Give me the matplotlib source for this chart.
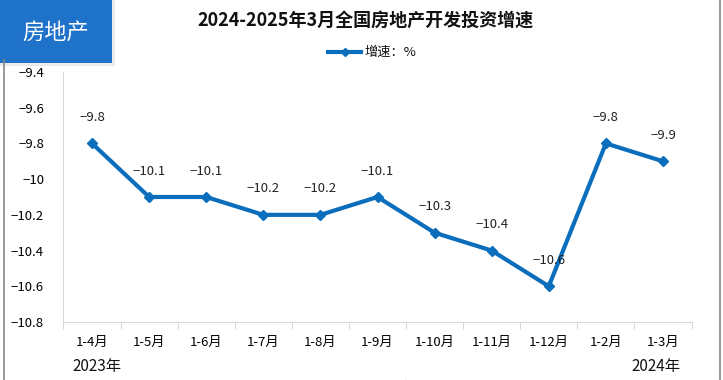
import matplotlib
matplotlib.use("Agg")
import matplotlib.pyplot as plt
from matplotlib.lines import Line2D
from matplotlib.patches import Rectangle

plt.rcParams['font.family'] = ['Noto Sans CJK SC', 'DejaVu Sans']
plt.rcParams['axes.unicode_minus'] = True

categories = ["1-4月", "1-5月", "1-6月", "1-7月", "1-8月", "1-9月", "1-10月", "1-11月", "1-12月", "1-2月", "1-3月"]
growth = [-9.8, -10.1, -10.1, -10.2, -10.2, -10.1, -10.3, -10.4, -10.6, -9.8, -9.9]
yticks = [-10.8, -10.6, -10.4, -10.2, -10, -9.8, -9.6, -9.4]
ytick_labels = ["−10.8", "−10.6", "−10.4", "−10.2", "−10", "−9.8", "−9.6", "−9.4"]

W, H = 723, 380
fig = plt.figure(figsize=(W/100, H/100), dpi=100)
ax = fig.add_axes([63.5/W, 1-322/H, (691.5-63.5)/W, 250/H])

color = "#0a6ebd"
x = list(range(len(categories)))
ax.plot(x, growth, color=color, lw=3, marker="D", ms=5, solid_joinstyle="round")
for xi, v in zip(x, growth):
    ax.annotate(f"{v:g}".replace("-", "−"), (xi, v), xytext=(0, 14), textcoords="offset points",
                ha="center", va="bottom", fontsize=9.5, color="#222222")

ax.set_xlim(-0.5, len(categories)-0.5)
ax.set_ylim(-10.8, -9.4)
ax.set_yticks(yticks)
ax.set_yticklabels(ytick_labels, fontsize=9.5)
ax.set_xticks(x)
ax.set_xticklabels(categories, fontsize=9.5)
ax.set_xticks([i + 0.5 for i in range(-1, len(categories))], minor=True)
ax.tick_params(axis="x", which="major", length=0, pad=10)
ax.tick_params(axis="x", which="minor", length=5, color="#d0d0d0")
ax.tick_params(axis="y", length=0, pad=14)
for s in ["top", "right"]:
    ax.spines[s].set_visible(False)
ax.spines["left"].set_color("#d9d9d9")
ax.spines["bottom"].set_color("#d9d9d9")

# Title
fig.text(365/W, 1-20/H, "2024-2025年3月全国房地产开发投资增速", ha="center", va="center",
         fontsize=13, fontweight="bold", color="#111111")

# Legend
leg_y = 1-52/H
fig.add_artist(Line2D([328/W, 361/W], [leg_y, leg_y], color=color, lw=3))
fig.add_artist(Line2D([344.5/W], [leg_y], color=color, marker="D", ms=4.5, lw=0))
fig.text(364/W, leg_y, "增速：%", ha="left", va="center", fontsize=9.5, color="#111111")

# Year labels
fig.text(97/W, 1-367/H, "2023年", ha="center", va="center", fontsize=11, color="#111111")
fig.text(656/W, 1-367/H, "2024年", ha="center", va="center", fontsize=11, color="#111111")

# Source text cut off at bottom (as in the reference)
fig.text(400/W, 1-388/H, "制图：中房情报网", ha="left", va="center", fontsize=11, color="#333333")

# Borders
fig.add_artist(Line2D([4/W, 4/W], [0, 1-60/H], color="#888888", lw=1.2))
fig.add_artist(Line2D([720/W, 720/W], [0, 1], color="#888888", lw=1.2))

# Badge with shadow
fig.add_artist(Rectangle((0, 1-66/H), 115/W, 66/H, transform=fig.transFigure,
                         facecolor="#dcdcdc", edgecolor="none", alpha=0.6))
fig.add_artist(Rectangle((0, 1-63/H), 112/W, 63/H, transform=fig.transFigure,
                         facecolor="#1f72c9", edgecolor="none"))
fig.text(56/W, 1-32/H, "房地产", ha="center", va="center", fontsize=16, color="white")

fig.savefig("out.png", dpi=100)
